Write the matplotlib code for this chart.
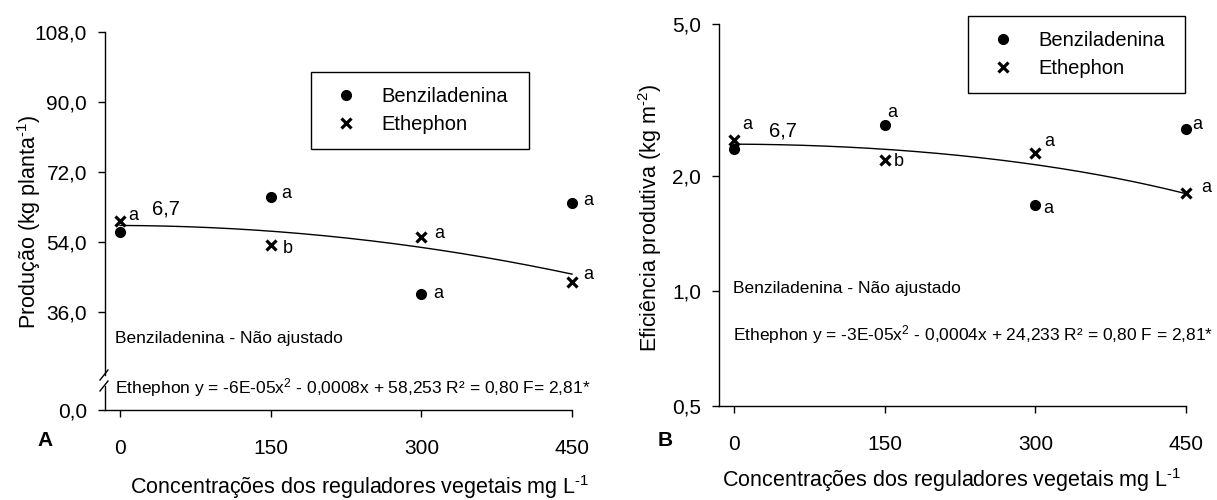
import numpy as np
import matplotlib
matplotlib.use("Agg")
import matplotlib.pyplot as plt
from matplotlib.lines import Line2D

plt.rcParams["font.family"] = ["Liberation Sans", "DejaVu Sans"]
plt.rcParams["mathtext.fontset"] = "custom"
plt.rcParams["mathtext.rm"] = "Liberation Sans"
plt.rcParams["mathtext.it"] = "Liberation Sans:italic"
plt.rcParams["mathtext.bf"] = "Liberation Sans:bold"

# ---- data ----------------------------------------------------------------
conc = [0, 150, 300, 450]

# Panel A: yield per plant (kg planta-1)
prod_benz = [56.6, 65.6, 40.6, 64.0]
prod_eth = [59.4, 53.2, 55.4, 43.8]
prod_benz_letters = ["", "a", "a", "a"]
prod_eth_letters = ["a", "b", "a", "a"]
prod_eth_coef = [-6e-05, -0.0008, 58.253]   # quadratic fit, Ethephon
prod_floor = 10.8                            # value shown at the broken-axis origin
prod_yticks = [prod_floor, 36, 54, 72, 90, 108]
prod_yticklabels = ["0,0", "36,0", "54,0", "72,0", "90,0", "108,0"]

# Panel B: productive efficiency (kg m-2)
efic_benz = [2.35, 2.72, 1.68, 2.66]
efic_eth = [2.48, 2.20, 2.30, 1.81]
efic_benz_letters = ["", "a", "a", "a"]
efic_eth_letters = ["a", "b", "a", "a"]
efic_eth_coef = [-3e-05, -0.0004, 24.233]    # fit in t ha-1
efic_unit = 0.1                              # t ha-1 -> kg m-2
efic_yticks = [0.5, 1.0, 2.0, 5.0]
efic_yticklabels = ["0,5", "1,0", "2,0", "5,0"]

xticks = [0, 150, 300, 450]
dms_label = "6,7"

# ---- figure --------------------------------------------------------------
W, H = 1217, 500
fig = plt.figure(figsize=(W / 100, H / 100), dpi=100)

axA = fig.add_axes([105 / W, 1 - 410 / H, 467 / W, 378 / H])
axB = fig.add_axes([719 / W, 1 - 406 / H, 467 / W, 382 / H])

TICK_FS = 15
LEG_FS = 14.5
NOTE_FS = 12.5
LET_FS = 13
LAB_FS = 15.5
XLABEL = r"Concentrações dos reguladores vegetais mg L$^{\text{-1}}$"


def px(v):
    # pixel offset -> points
    return v * 0.72


def style_axes(ax):
    for s in ("top", "right"):
        ax.spines[s].set_visible(False)
    for s in ("left", "bottom"):
        ax.spines[s].set_linewidth(1.0)
        ax.spines[s].set_color("black")
    ax.tick_params(axis="x", direction="out", length=5, width=1, pad=16,
                   labelsize=TICK_FS)
    ax.tick_params(axis="y", direction="out", length=5, width=1, pad=8,
                   labelsize=TICK_FS)
    ax.set_xlim(-15, 450)
    ax.set_xticks(xticks)
    ax.set_xticklabels([str(v) for v in xticks])
    ax.patch.set_alpha(0)


def draw_series(ax, benz, eth, coef, scale, benz_letters, eth_letters,
                benz_off, eth_off):
    ax.plot(conc, benz, linestyle="none", marker="o", markersize=7,
            color="black", label="Benziladenina", zorder=4, clip_on=False)
    ax.plot(conc, eth, linestyle="none", marker="x", markersize=7.5,
            markeredgewidth=2.3, color="black", label="Ethephon", zorder=4,
            clip_on=False)
    xs = np.linspace(0, 450, 200)
    ys = np.polyval(coef, xs) * scale
    ax.plot(xs, ys, color="black", linewidth=1.0, zorder=3, clip_on=False)
    for x, y, t, (dx, dy) in zip(conc, benz, benz_letters, benz_off):
        if t:
            ax.annotate(t, (x, y), xytext=(px(dx), px(-dy)),
                        textcoords="offset points", ha="left", va="center",
                        fontsize=LET_FS)
    for x, y, t, (dx, dy) in zip(conc, eth, eth_letters, eth_off):
        if t:
            ax.annotate(t, (x, y), xytext=(px(dx), px(-dy)),
                        textcoords="offset points", ha="left", va="center",
                        fontsize=LET_FS)


def add_legend(ax, anchor):
    leg = ax.legend(loc="upper left", bbox_to_anchor=anchor, mode="expand",
                    borderaxespad=0, frameon=True, fancybox=False,
                    fontsize=LEG_FS, handlelength=2.0, handletextpad=0.75,
                    borderpad=0.75, labelspacing=0.42, numpoints=1)
    fr = leg.get_frame()
    fr.set_edgecolor("black")
    fr.set_linewidth(1.0)
    fr.set_alpha(1)
    return leg


# ---- Panel A -------------------------------------------------------------
style_axes(axA)
axA.set_ylim(prod_floor, 108)
axA.set_yticks(prod_yticks)
axA.set_yticklabels(prod_yticklabels)
axA.spines["left"].set_visible(False)

# left spine drawn in two pieces with a break
gap_lo = (410 - 386) / 378
gap_hi = (410 - 375) / 378
axA.add_line(Line2D([0, 0], [0, gap_lo], transform=axA.transAxes,
                    color="black", lw=1.0, clip_on=False))
axA.add_line(Line2D([0, 0], [gap_hi, 1], transform=axA.transAxes,
                    color="black", lw=1.0, clip_on=False))
for yc in (375, 386):
    x0 = (-5) / 467
    x1 = (3) / 467
    y0 = (410 - (yc + 5)) / 378
    y1 = (410 - (yc - 5)) / 378
    axA.add_line(Line2D([x0, x1], [y0, y1], transform=axA.transAxes,
                        color="black", lw=1.0, clip_on=False))

draw_series(axA, prod_benz, prod_eth, prod_eth_coef, 1.0,
            prod_benz_letters, prod_eth_letters,
            benz_off=[(0, 0), (11, -3), (12, -1), (11, -3)],
            eth_off=[(8, -5), (12, 3), (13, -3), (11, -7)])

axA.text(46, 62.5, dms_label, fontsize=LEG_FS, ha="center", va="center")
axA.text(10 / 467, (410 - 338) / 378, "Benziladenina - Não ajustado",
         transform=axA.transAxes, fontsize=NOTE_FS, ha="left", va="center")
axA.text(10 / 467, (410 - 388) / 378,
         "Ethephon y = -6E-05x$^{2}$ - 0,0008x + 58,253 R² = 0,80 F= 2,81*",
         transform=axA.transAxes, fontsize=NOTE_FS, ha="left", va="center")

add_legend(axA, ((311 - 105) / 467, (410 - 72) / 378, (529 - 311) / 467, 0))

axA.set_ylabel(r"Produção (kg planta$^{\text{-1}}$)", fontsize=LAB_FS)
axA.yaxis.label.set_va("center")
axA.yaxis.set_label_coords((29 - 105) / 467, (410 - 222) / 378)
axA.set_xlabel(XLABEL, fontsize=LAB_FS)
axA.xaxis.label.set_va("center")
axA.xaxis.set_label_coords((360 - 105) / 467, (410 - 487) / 378)
fig.text(45 / W, 1 - 441 / H, "A", fontsize=15, fontweight="bold",
         ha="center", va="center")

# ---- Panel B -------------------------------------------------------------
style_axes(axB)
axB.set_yscale("log")
axB.set_ylim(0.5, 5.0)
axB.set_yticks(efic_yticks)
axB.set_yticklabels(efic_yticklabels)
axB.yaxis.set_minor_locator(matplotlib.ticker.NullLocator())

draw_series(axB, efic_benz, efic_eth, efic_eth_coef, efic_unit,
            efic_benz_letters, efic_eth_letters,
            benz_off=[(0, 0), (3, -13), (8, 4), (6, -4)],
            eth_off=[(8, -16), (9, 1), (9, -11), (15, -5)])

axB.text(49, 2.63, dms_label, fontsize=LEG_FS, ha="center", va="center")
axB.text(14 / 467, (406 - 288) / 382, "Benziladenina - Não ajustado",
         transform=axB.transAxes, fontsize=NOTE_FS, ha="left", va="center")
axB.text(14 / 467, (406 - 335) / 382,
         "Ethephon y = -3E-05x$^{2}$ - 0,0004x + 24,233 R² = 0,80 F = 2,81*",
         transform=axB.transAxes, fontsize=NOTE_FS, ha="left", va="center")

add_legend(axB, ((968 - 719) / 467, (406 - 16) / 382, (1185 - 968) / 467, 0))

axB.set_ylabel(r"Eficiência produtiva (kg m$^{\text{-2}}$)", fontsize=LAB_FS)
axB.yaxis.label.set_va("center")
axB.yaxis.set_label_coords((650 - 719) / 467, (406 - 218) / 382)
axB.set_xlabel(XLABEL, fontsize=LAB_FS)
axB.xaxis.label.set_va("center")
axB.xaxis.set_label_coords((952 - 719) / 467, (406 - 480) / 382)
fig.text(665 / W, 1 - 441 / H, "B", fontsize=15, fontweight="bold",
         ha="center", va="center")

fig.savefig("out.png", dpi=100, facecolor="white")
